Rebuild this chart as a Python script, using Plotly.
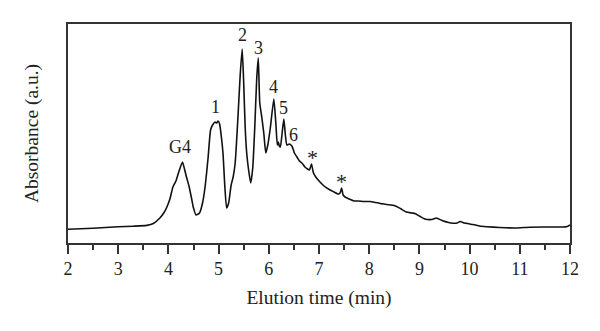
import plotly.graph_objects as go

# Chromatogram: elution time (min) vs absorbance (arbitrary units)
elution_time = [
    2.00, 2.50, 3.00, 3.30, 3.57, 3.70, 3.83, 3.92, 3.97, 4.03, 4.09, 4.15, 4.20,
    4.28, 4.32, 4.36, 4.41, 4.46, 4.50, 4.55, 4.62, 4.68, 4.73, 4.79, 4.84, 4.88,
    4.93, 4.96, 4.99, 5.02, 5.06, 5.09, 5.12, 5.16, 5.20, 5.25, 5.29, 5.33, 5.39,
    5.43, 5.47, 5.50, 5.53, 5.56, 5.60, 5.64, 5.68, 5.72, 5.76, 5.79, 5.82, 5.86,
    5.90, 5.94, 5.98, 6.03, 6.10, 6.14, 6.17, 6.19, 6.21, 6.23, 6.27, 6.30, 6.33,
    6.36, 6.41, 6.46, 6.51, 6.56, 6.61, 6.66, 6.72, 6.77, 6.81, 6.85, 6.89, 6.95,
    7.02, 7.10, 7.22, 7.30, 7.38, 7.42, 7.45, 7.48, 7.52, 7.60, 7.70, 7.78, 7.90,
    8.02, 8.12, 8.22, 8.35, 8.51, 8.62, 8.74, 8.85, 8.91, 9.00, 9.11, 9.25, 9.34,
    9.45, 9.58, 9.67, 9.75, 9.81, 9.90, 10.07, 10.20, 10.34, 10.60, 10.92, 11.20,
    11.59, 11.93, 12.00,
]
absorbance = [
    13.7, 14.8, 16.2, 16.8, 17.6, 19.5, 25, 31, 36, 44, 56, 62, 70,
    81, 74, 66, 57, 45, 35, 28, 30, 40, 56, 85, 113, 118,
    121, 120, 122, 119, 104, 88, 60, 35, 40, 58, 66, 80, 130,
    168, 194, 160, 115, 90, 72, 60, 75, 115, 165, 185, 140, 126,
    110, 90, 98, 115, 144, 120, 98, 101, 97, 96, 112, 124, 108,
    98, 99, 97, 90, 86, 82, 80, 76, 74, 73, 79, 70, 65,
    61, 57, 53, 51, 49, 50, 55, 48, 46, 44, 42, 42, 41.5,
    41.5, 40.5, 39.5, 38.5, 37.3, 34.5, 31, 30, 29.5, 27, 24, 23.5, 25,
    22.5, 20.5, 19.8, 20, 21.5, 20, 18.5, 17, 16.3, 15.5, 15, 15.8,
    16, 16.3, 18,
]

# Peak labels and their positions
peak_labels = ["G4", "1", "2", "3", "4", "5", "6", "*", "*"]
label_time = [4.23, 4.94, 5.47, 5.79, 6.10, 6.30, 6.49, 6.87, 7.45]
label_level = [96, 136, 208, 194.7, 156, 134.7, 108, 86, 62]

FONT = "Liberation Serif"
INK = "#222222"
FRAME = "#333333"

fig = go.Figure()
fig.add_trace(go.Scatter(
    x=elution_time, y=absorbance, mode="lines",
    line=dict(color="#111111", width=1.6, shape="spline", smoothing=0.5),
    hoverinfo="skip", showlegend=False,
))

for lab, tx, ty in zip(peak_labels, label_time, label_level):
    fig.add_annotation(
        x=tx, y=ty, text=lab, showarrow=False,
        font=dict(family=FONT, size=18 if lab != "*" else 22, color=INK),
        xanchor="center", yanchor="middle",
    )

fig.update_layout(
    width=600, height=331,
    margin=dict(l=68, r=30, t=24, b=88),
    paper_bgcolor="white", plot_bgcolor="white",
    font=dict(family=FONT, color=INK),
)
fig.update_xaxes(
    range=[2, 12], tickmode="linear", tick0=2, dtick=1,
    ticks="outside", ticklen=9, tickwidth=1.5, tickcolor=FRAME,
    minor=dict(tickmode="linear", tick0=2, dtick=0.5, ticks="outside",
               ticklen=5, tickwidth=1.5, tickcolor=FRAME, showgrid=False),
    showline=True, linecolor=FRAME, linewidth=1.5, mirror=True,
    showgrid=False, zeroline=False,
    tickfont=dict(family=FONT, size=18, color=INK),
    title=dict(text="Elution time (min)",
               font=dict(family=FONT, size=19.5, color=INK), standoff=12),
)
fig.update_yaxes(
    range=[0, 219], showticklabels=False, ticks="",
    showline=True, linecolor=FRAME, linewidth=1.5, mirror=True,
    showgrid=False, zeroline=False,
    title=dict(text="Absorbance (a.u.)",
               font=dict(family=FONT, size=19.5, color=INK), standoff=22),
)

fig.write_html("out.html")
